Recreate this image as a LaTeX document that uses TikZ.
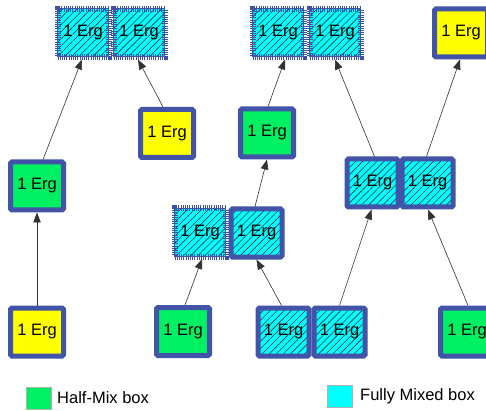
\documentclass[tikz,border=0pt]{standalone}
\usepackage{fontspec}
\setmainfont{Liberation Sans}
\usetikzlibrary{patterns.meta,arrows.meta,calc}
\definecolor{bordercol}{RGB}{66,84,168}
\definecolor{fringecol}{RGB}{60,80,170}
\definecolor{halfgreen}{RGB}{0,240,100}
\definecolor{fullcyan}{RGB}{0,255,255}
\definecolor{boxyellow}{RGB}{255,255,0}
\tikzset{
  basebox/.style={rectangle, minimum width=53pt, minimum height=48pt, inner sep=0pt,
    line width=5pt, draw=bordercol, rounded corners=1.5pt, outer sep=2.5pt,
    font=\fontsize{16.5}{18}\selectfont},
  halfbox/.style={basebox, fill=halfgreen},
  yellowbox/.style={basebox, fill=boxyellow},
  hatch/.style={preaction={fill=fullcyan},
    preaction={solid, pattern={Lines[angle=45,distance=5pt,line width=0.6pt]}, pattern color=black!80}},
  mixedbox/.style={basebox, minimum width=51pt, hatch},
  fringebox/.style={basebox, minimum width=51pt, hatch, draw=fringecol, rounded corners=0pt,
    line width=6pt, dash pattern=on 1pt off 1.2pt,
    postaction={draw=bordercol, line width=1pt, solid}},
  conn/.style={draw=black!80, line width=0.6pt, -{Triangle[length=10pt,width=7.5pt]}},
  legendsq/.style={rectangle, draw=black!30, line width=0.5pt, minimum width=25pt, minimum height=22pt, inner sep=0pt},
  legendtxt/.style={anchor=west, inner sep=0pt, font=\fontsize{16.5}{18}\selectfont}
}
\begin{document}
\begin{tikzpicture}[x=1pt,y=-1pt]
\useasboundingbox (0,0) rectangle (486,411);
\clip (0,0) rectangle (486,411);
\fill[white] (0,0) rectangle (486,411);
% top row
\node[fringebox] (A1) at (83,33) {1 Erg};
\node[fringebox] (A2) at (139,33) {1 Erg};
\node[fringebox] (B1) at (278,33) {1 Erg};
\node[fringebox] (B2) at (335,33) {1 Erg};
\node[yellowbox] (C) at (461,33) {1 Erg};
% second row
\node[yellowbox] (D) at (167,133.5) {1 Erg};
\node[halfbox] (E) at (267,133) {1 Erg};
\node[halfbox] (F) at (37,186) {1 Erg};
\node[mixedbox] (G1) at (372.5,183) {1 Erg};
\node[mixedbox] (G2) at (427.5,183) {1 Erg};
\node[fringebox] (H) at (200,232.5) {1 Erg};
\node[mixedbox] (I) at (256.5,233) {1 Erg};
% bottom row
\node[yellowbox] (J) at (37,332) {1 Erg};
\node[halfbox] (K) at (183,331.5) {1 Erg};
\node[mixedbox] (L1) at (283.5,332) {1 Erg};
\node[mixedbox] (L2) at (339.5,332) {1 Erg};
\node[halfbox] (M) at (467,332) {1 Erg};
% connectors
\draw[conn] ([xshift=6pt]F.north) -- ([xshift=-1pt]A1.south);
\draw[conn] ([xshift=-4pt]D.north) -- ([xshift=-1pt]A2.south);
\draw[conn] (J.north) -- (F.south);
\draw[conn] ([xshift=2pt]K.north) -- ([xshift=2pt]H.south);
\draw[conn] ([xshift=-2pt]L1.north) -- (I.south);
\draw[conn] (L2.north) -- ([xshift=-1pt]G1.south);
\draw[conn] ([xshift=1pt]M.north) -- ([xshift=0.5pt]G2.south);
\draw[conn] ([xshift=-1.5pt]I.north) -- (E.south);
\draw[conn] ([xshift=1pt]E.north) -- ([xshift=7pt]B1.south);
\draw[conn] ([xshift=2pt]G1.north) -- (B2.south);
\draw[conn] ([xshift=-1pt]G2.north) -- ([xshift=-1pt]C.south);
% legend
\node[legendsq, fill=halfgreen] (lg1) at (38.5,398) {};
\node[legendtxt] (lt1) at (57,398) {Half-Mix box};
\node[legendsq, fill=fullcyan] (lg2) at (339.5,396) {};
\node[legendtxt] (lt2) at (360,396) {Fully Mixed box};
\end{tikzpicture}
\end{document}
